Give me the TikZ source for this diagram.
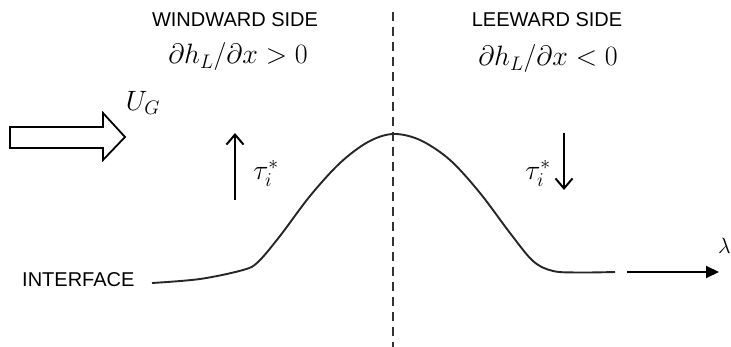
\RequirePackage{fix-cm}
\documentclass[tikz,border=0pt]{standalone}
\usepackage{fontspec}
\setmainfont{Liberation Sans}
\usetikzlibrary{arrows.meta}
\tikzset{
  lbl/.style={font=\fontsize{20}{23}\selectfont, inner sep=0pt},
  mathlbl/.style={font=\fontsize{28}{32}\selectfont, inner sep=0pt},
  curve/.style={line width=1.9pt, black!85},
  shear/.style={line width=2pt, -{Straight Barb[length=10pt,width=17pt,line width=2pt]}},
  axis/.style={line width=2pt, -{Triangle[length=13pt,width=12pt]}},
  divider/.style={line width=2pt, black!80, dash pattern=on 9pt off 6pt},
  flow/.style={line width=1.8pt, fill=white}
}
\begin{document}
\begin{tikzpicture}[x=1pt,y=-1pt]
\useasboundingbox (0,0) rectangle (731,347);
% divider
\coordinate (dtop) at (393,12);
\coordinate (dbot) at (393,347);
\draw[divider] (dtop) -- (dbot);
% headings
\node[lbl] (ws) at (235,20) {WINDWARD SIDE};
\node[lbl] (ls) at (547,20) {LEEWARD SIDE};
\node[mathlbl] (wm) at (238,57) {$\partial h_L/\partial x > 0$};
\node[mathlbl] (lm) at (548,59) {$\partial h_L/\partial x < 0$};
% flow arrow
\draw[flow] (10,127) -- (103,127) -- (103,113) -- (125,137) -- (103,160) -- (103,148) -- (10,148) -- cycle;
\node[mathlbl] (ug) at (143,103) {$U_G$};
% shear arrows
\coordinate (t1b) at (235,200);
\coordinate (t1t) at (235,133);
\draw[shear] (t1b) -- (t1t);
\node[mathlbl] (tau1) at (266,173) {$\tau_i^*$};
\coordinate (t2t) at (564,133);
\coordinate (t2b) at (564,190);
\draw[shear] (t2t) -- (t2b);
\node[mathlbl] (tau2) at (538,173) {$\tau_i^*$};
% interface
\node[lbl, anchor=west] (intf) at (22,280) {INTERFACE};
\coordinate (c0) at (152,283);
\coordinate (cend) at (615,272);
\draw[curve] plot[smooth, tension=0.55] coordinates {(c0) (200,279) (243,270) (258,262) (280,236) (310,196) (340,163) (368,142) (393,134) (420,140) (450,160) (480,193) (510,233) (533,261) (553,271) (580,272.5) (cend)};
% lambda axis
\coordinate (a0) at (627,272);
\coordinate (a1) at (719,272);
\draw[axis] (a0) -- (a1);
\node[font=\fontsize{22}{24}\selectfont, inner sep=0pt, anchor=east] (lam) at (731,246) {$\lambda$};
\end{tikzpicture}
\end{document}
